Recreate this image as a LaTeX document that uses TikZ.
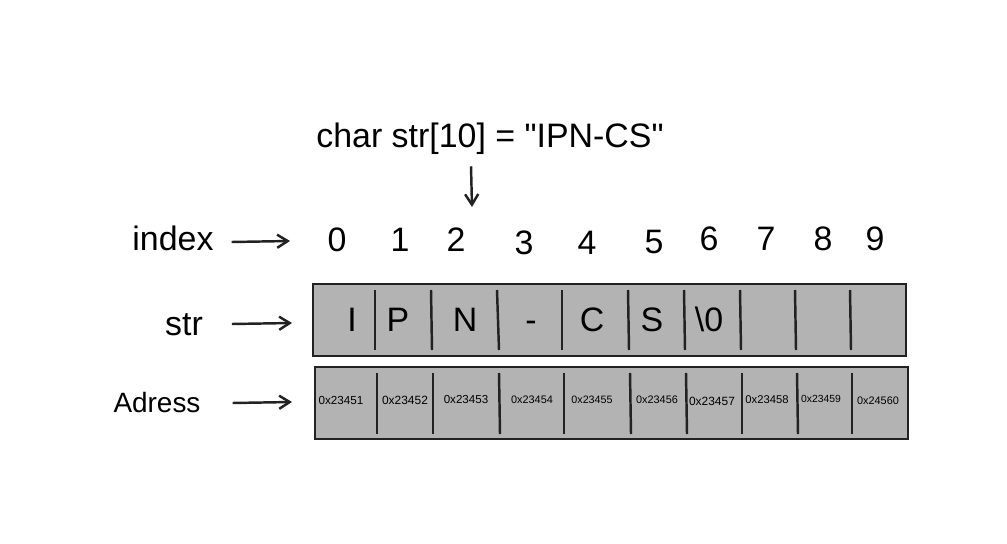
\documentclass[tikz,border=0pt]{standalone}
\usepackage{fontspec}
\setmainfont{Liberation Sans}
\usepackage{tikz}
\usetikzlibrary{arrows.meta, positioning}
\usepackage{xcolor}
\definecolor{cellgray}{RGB}{179, 179, 179}
\definecolor{inkdark}{RGB}{34, 34, 34}

\begin{document}
\begin{tikzpicture}[x=0.02cm, y=-0.02cm, >={Straight Barb[length=6pt, width=7.5pt]}, line width=1.2pt,
    bigtxt/.style={font=\fontsize{19.3}{22}\selectfont, text height=13.9pt, text depth=0pt, inner sep=0pt},
    labtxt/.style={font=\fontsize{15.9}{18}\selectfont, text height=11.4pt, text depth=0pt, inner sep=0pt},
    cellbox/.style={draw=inkdark, fill=cellgray, line width=1.2pt},
    cellsep/.style={inkdark, line width=1.4pt},
    pointer/.style={->, inkdark, line width=1.4pt}]
    \useasboundingbox (0,0) rectangle (1007,544);

    % 声明
    \node[bigtxt] (decl) at (490,135) {char str[10] = \textquotedbl IPN-CS\textquotedbl};
    \coordinate (declhead) at (472,207);
    \draw[pointer] ([xshift=-0.38cm, yshift=-0.36cm]decl.south) -- (declhead);

    % 行标签
    \node[bigtxt] (idxlabel) at (173,238) {index};
    \node[bigtxt] (strlabel) at (184,323) {str};
    \node[labtxt] (adrlabel) at (157,402) {Adress};
    \coordinate (idxhead) at (290,241);
    \coordinate (strhead) at (292,323);
    \coordinate (adrhead) at (292,402);
    \draw[pointer] ([xshift=0.34cm, yshift=-0.08cm]idxlabel.east) -- (idxhead);
    \draw[pointer] ([xshift=0.56cm, yshift=-0.02cm]strlabel.east) -- (strhead);
    \draw[pointer] ([xshift=0.62cm, yshift=-0.02cm]adrlabel.east) -- (adrhead);

    % 下标
    \foreach \x/\y [count=\i from 0] in {337/239, 400/239, 456/239, 524/242, 587/242, 654/241, 709/238, 766/238, 823/238, 875/238}
        \node[bigtxt] (idx\i) at (\x,\y) {\i};

    % 字符数组
    \draw[cellbox] (313,284) rectangle (906,356);
    \foreach \x/\dx in {375/0, 431/1, 497/2, 562/0, 628/1, 684/1, 740/1, 795/1, 850/1}
        \draw[cellsep] (\x,290) -- (\x+\dx,350);
    \foreach \x/\c [count=\i] in {352/I, 398/P, 465/N, 531/-, 592/C, 652/S, 709/{\textbackslash 0}}
        \node[bigtxt] (chr\i) at (\x,319) {\c};

    % 地址
    \draw[cellbox] (315,367) rectangle (908,439);
    \foreach \x/\dx in {377/0, 433/0, 499/1, 564/0, 630/1, 686/1, 742/0, 797/1, 852/0}
        \draw[cellsep] (\x,373) -- (\x+\dx,434);
    \foreach \x/\y/\s/\a [count=\i] in {341/400/6.65/0x23451, 405/400/6.8/0x23452, 466/400/6.6/0x23453,
            532/400/6.2/0x23454, 592/400/6.1/0x23455, 657/400/6.2/0x23456, 712/401/6.8/0x23457,
            767/400/6.4/0x23458, 821/399/5.9/0x23459, 878/401/6.2/0x24560}
        \node[font=\fontsize{\s}{8}\selectfont, inner sep=0pt] (adr\i) at (\x,\y) {\a};

\end{tikzpicture}
\end{document}
